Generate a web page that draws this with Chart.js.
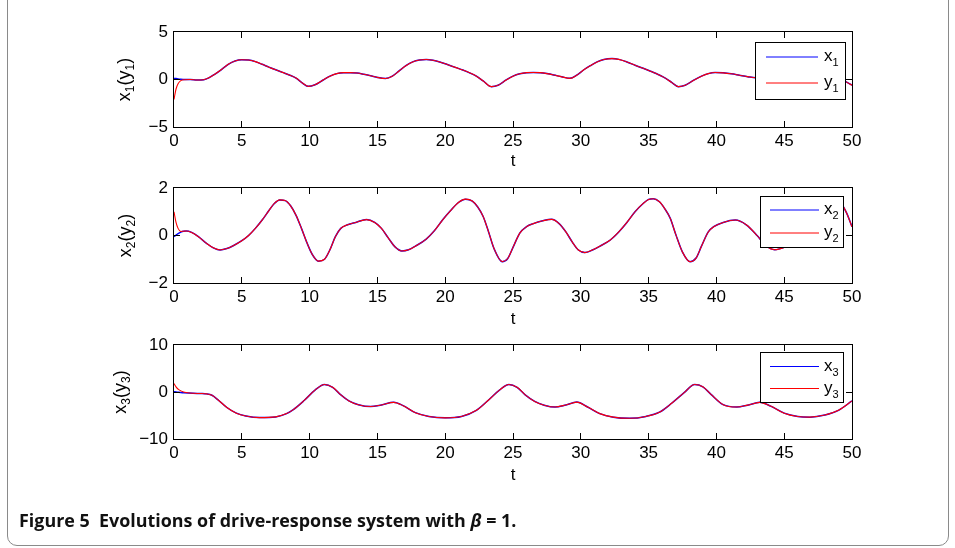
<!DOCTYPE html>
<html>
<head>
<meta charset="utf-8">
<script src="https://cdn.jsdelivr.net/npm/chart.js@4.4.1/dist/chart.umd.min.js"></script>
<style>
  body { margin: 0; background: #fff; }
  #page { position: relative; width: 955px; height: 548px; overflow: hidden; }
  #frame { position: absolute; left: 7px; top: -20px; width: 940px; height: 564px; border: 1px solid #8a8a8a; border-radius: 10px; }
  canvas { position: absolute; left: 0; top: 0; }
  #caption { position: absolute; left: 19px; top: 510px; font: bold 17.9px "Open Sans", sans-serif; line-height: 20px; color: #111; white-space: nowrap; }
</style>
</head>
<body>
<div id="page">
  <div id="frame"></div>
  <canvas id="c1" width="955" height="548"></canvas>
  <canvas id="c2" width="955" height="548"></canvas>
  <canvas id="c3" width="955" height="548"></canvas>
  <div id="caption">Figure 5&nbsp;&nbsp;Evolutions of drive-response system with <i>β</i> = 1.</div>
</div>
<script>
// panel 1: x1 (drive) and y1 (response)
const t1 = [0, 0.15, 0.3, 0.5, 0.8, 1.2, 1.7, 2.2, 2.6, 3.0,
  3.5, 4.0, 4.5, 5.0, 5.5, 6.0, 6.5, 7.0, 7.5, 8.0,
  8.5, 9.0, 9.5, 9.9, 10.4, 11.0, 11.5, 12.0, 12.5, 13.0,
  13.5, 14.0, 14.5, 15.0, 15.6, 16.1, 16.6, 17.1, 17.6, 18.1,
  18.6, 19.1, 19.6, 20.2, 20.8, 21.3, 21.8, 22.3, 22.8, 23.4,
  23.9, 24.5, 25.0, 25.5, 26.0, 26.5, 27.0, 27.5, 28.0, 28.6,
  29.2, 29.7, 30.2, 30.7, 31.2, 31.7, 32.3, 32.8, 33.4, 34.0,
  34.6, 35.1, 35.6, 36.1, 36.7, 37.2, 37.7, 38.3, 38.9, 39.4,
  39.9, 40.5, 41.1, 41.7, 42.3, 42.9, 43.5, 44.1, 44.7, 45.3,
  45.9, 46.5, 47.1, 47.7, 48.3, 48.9, 49.5, 50.0];
const x1 = [0.1, 0.1, 0.05, 0.02, 0.0, 0.0, -0.05, -0.02, 0.2, 0.55,
  1.05, 1.6, 1.95, 2.08, 2.05, 1.88, 1.6, 1.3, 1.02, 0.75,
  0.48, 0.15, -0.4, -0.72, -0.55, -0.05, 0.35, 0.62, 0.72, 0.72,
  0.68, 0.55, 0.4, 0.22, 0.1, 0.35, 0.9, 1.45, 1.85, 2.05,
  2.1, 2.02, 1.85, 1.55, 1.25, 1.0, 0.7, 0.35, -0.15, -0.75,
  -0.6, -0.05, 0.35, 0.6, 0.72, 0.74, 0.72, 0.62, 0.48, 0.28,
  0.12, 0.45, 1.0, 1.45, 1.85, 2.1, 2.2, 2.12, 1.85, 1.5,
  1.18, 0.9, 0.6, 0.25, -0.3, -0.75, -0.6, -0.1, 0.35, 0.62,
  0.74, 0.7, 0.6, 0.45, 0.3, 0.18, 0.3, 0.9, 1.6, 2.05,
  2.15, 1.95, 1.6, 1.2, 0.8, 0.35, -0.2, -0.6];
const y1 = [-2.1, -1.0, -0.45, -0.12, -0.02, 0.0, -0.05, -0.02, 0.2, 0.55,
  1.05, 1.6, 1.95, 2.08, 2.05, 1.88, 1.6, 1.3, 1.02, 0.75,
  0.48, 0.15, -0.4, -0.72, -0.55, -0.05, 0.35, 0.62, 0.72, 0.72,
  0.68, 0.55, 0.4, 0.22, 0.1, 0.35, 0.9, 1.45, 1.85, 2.05,
  2.1, 2.02, 1.85, 1.55, 1.25, 1.0, 0.7, 0.35, -0.15, -0.75,
  -0.6, -0.05, 0.35, 0.6, 0.72, 0.74, 0.72, 0.62, 0.48, 0.28,
  0.12, 0.45, 1.0, 1.45, 1.85, 2.1, 2.2, 2.12, 1.85, 1.5,
  1.18, 0.9, 0.6, 0.25, -0.3, -0.75, -0.6, -0.1, 0.35, 0.62,
  0.74, 0.7, 0.6, 0.45, 0.3, 0.18, 0.3, 0.9, 1.6, 2.05,
  2.15, 1.95, 1.6, 1.2, 0.8, 0.35, -0.2, -0.6];

// panel 2: x2 and y2
const t2 = [0, 0.15, 0.3, 0.5, 0.7, 0.9, 1.3, 1.8, 2.4, 2.9,
  3.4, 3.9, 4.4, 5.0, 5.5, 6.0, 6.5, 7.0, 7.4, 7.8,
  8.2, 8.6, 9.0, 9.4, 9.8, 10.2, 10.65, 11.1, 11.5, 11.9,
  12.3, 12.8, 13.4, 14.2, 14.8, 15.3, 15.8, 16.3, 16.8, 17.3,
  17.8, 18.6, 19.2, 19.8, 20.4, 21.0, 21.5, 22.0, 22.4, 22.8,
  23.2, 23.6, 24.2, 24.6, 25.0, 25.5, 26.0, 26.5, 27.2, 27.85,
  28.4, 28.9, 29.4, 29.8, 30.3, 30.9, 31.5, 32.15, 32.8, 33.4,
  34.0, 34.6, 35.0, 35.35, 35.8, 36.2, 36.6, 37.0, 37.5, 38.05,
  38.5, 38.9, 39.4, 39.8, 40.5, 41.4, 42.2, 43.0, 43.6, 44.3,
  45.0, 45.7, 46.4, 47.1, 47.7, 48.3, 48.8, 49.2, 49.6, 50.0];
const x2 = [-0.05, 0.02, 0.08, 0.14, 0.18, 0.19, 0.13, -0.05, -0.33, -0.52,
  -0.61, -0.55, -0.42, -0.22, 0.0, 0.3, 0.65, 1.05, 1.35, 1.5,
  1.47, 1.25, 0.85, 0.3, -0.3, -0.8, -1.08, -1.0, -0.6, -0.05,
  0.3, 0.45, 0.55, 0.67, 0.55, 0.3, -0.1, -0.48, -0.65, -0.6,
  -0.45, -0.15, 0.2, 0.65, 1.05, 1.4, 1.53, 1.45, 1.2, 0.8,
  0.15, -0.55, -1.1, -0.98, -0.5, 0.1, 0.37, 0.5, 0.62, 0.68,
  0.5, 0.15, -0.3, -0.6, -0.72, -0.6, -0.42, -0.2, 0.15, 0.55,
  1.0, 1.35, 1.52, 1.55, 1.42, 1.12, 0.72, 0.05, -0.7, -1.1,
  -0.95, -0.45, 0.15, 0.37, 0.55, 0.65, 0.45, 0.0, -0.4, -0.6,
  -0.5, -0.3, 0.0, 0.5, 1.0, 1.4, 1.52, 1.35, 0.95, 0.37];
const y2 = [1.0, 0.55, 0.3, 0.17, 0.18, 0.19, 0.13, -0.05, -0.33, -0.52,
  -0.61, -0.55, -0.42, -0.22, 0.0, 0.3, 0.65, 1.05, 1.35, 1.5,
  1.47, 1.25, 0.85, 0.3, -0.3, -0.8, -1.08, -1.0, -0.6, -0.05,
  0.3, 0.45, 0.55, 0.67, 0.55, 0.3, -0.1, -0.48, -0.65, -0.6,
  -0.45, -0.15, 0.2, 0.65, 1.05, 1.4, 1.53, 1.45, 1.2, 0.8,
  0.15, -0.55, -1.1, -0.98, -0.5, 0.1, 0.37, 0.5, 0.62, 0.68,
  0.5, 0.15, -0.3, -0.6, -0.72, -0.6, -0.42, -0.2, 0.15, 0.55,
  1.0, 1.35, 1.52, 1.55, 1.42, 1.12, 0.72, 0.05, -0.7, -1.1,
  -0.95, -0.45, 0.15, 0.37, 0.55, 0.65, 0.45, 0.0, -0.4, -0.6,
  -0.5, -0.3, 0.0, 0.5, 1.0, 1.4, 1.52, 1.35, 0.95, 0.37];

// panel 3: x3 and y3
const t3 = [0, 0.15, 0.35, 0.7, 1.4, 2.0, 2.4, 2.8, 3.3, 3.9,
  4.6, 5.3, 6.3, 7.5, 8.3, 8.8, 9.6, 10.4, 11.1, 11.7,
  12.3, 12.9, 13.6, 14.5, 15.3, 16.2, 16.9, 17.8, 18.8, 20.0,
  21.2, 22.3, 23.2, 24.0, 24.7, 25.3, 25.9, 26.6, 27.3, 28.1,
  28.9, 29.7, 30.5, 31.4, 32.4, 33.6, 34.8, 35.8, 36.7, 37.6,
  38.4, 39.0, 39.6, 40.5, 41.5, 42.3, 43.2, 44.0, 45.0, 46.0,
  46.9, 48.0, 49.0, 50.0];
const x3 = [0.05, 0.0, -0.05, -0.15, -0.28, -0.32, -0.4, -0.7, -1.8, -3.3,
  -4.5, -5.1, -5.45, -5.3, -4.6, -3.75, -1.8, 0.4, 1.6, 1.0,
  -0.6, -1.9, -2.7, -3.1, -2.75, -2.2, -2.9, -4.4, -5.2, -5.5,
  -5.2, -3.9, -1.7, 0.4, 1.6, 1.0, -0.6, -2.0, -2.8, -3.2,
  -2.75, -2.15, -3.2, -4.6, -5.35, -5.6, -5.2, -4.3, -2.4, -0.2,
  1.6, 1.1, -0.5, -2.7, -3.2, -2.8, -2.2, -3.0, -4.5, -5.2,
  -5.35, -4.9, -3.9, -1.9];
const y3 = [1.8, 1.1, 0.5, 0.0, -0.28, -0.32, -0.4, -0.7, -1.8, -3.3,
  -4.5, -5.1, -5.45, -5.3, -4.6, -3.75, -1.8, 0.4, 1.6, 1.0,
  -0.6, -1.9, -2.7, -3.1, -2.75, -2.2, -2.9, -4.4, -5.2, -5.5,
  -5.2, -3.9, -1.7, 0.4, 1.6, 1.0, -0.6, -2.0, -2.8, -3.2,
  -2.75, -2.15, -3.2, -4.6, -5.35, -5.6, -5.2, -4.3, -2.4, -0.2,
  1.6, 1.1, -0.5, -2.7, -3.2, -2.8, -2.2, -3.0, -4.5, -5.2,
  -5.35, -4.9, -3.9, -1.9];

const tTicks = [0, 5, 10, 15, 20, 25, 30, 35, 40, 45, 50];

const FONT = "'Liberation Sans', Arial, sans-serif";
Chart.defaults.font.family = FONT;
Chart.defaults.font.size = 17;
Chart.defaults.color = "#000";

function points(t, v) {
  return t.map((tt, i) => ({ x: tt, y: v[i] }));
}

function minus(v) {
  return v < 0 ? "\u2212" + Math.abs(v) : "" + v;
}

// text with subscripts, left to right from baseline (x, y)
function subText(ctx, parts, x, y, size, subSize, drop, measureOnly) {
  let w = 0;
  parts.forEach(p => {
    ctx.font = (p[1] ? subSize : size) + "px " + FONT;
    if (!measureOnly) ctx.fillText(p[0], x + w, y + (p[1] ? drop : 0));
    w += ctx.measureText(p[0]).width;
  });
  return w;
}

const framePlugin = {
  id: "matFrame",
  afterDraw(chart, args, opts) {
    const { ctx, chartArea: a, scales: { x, y } } = chart;
    ctx.save();
    ctx.fillStyle = "#000";
    ctx.strokeStyle = "#000";
    ctx.lineWidth = 1;

    // inward ticks on all four sides
    ctx.beginPath();
    x.ticks.forEach(tk => {
      if (tk.value <= x.min || tk.value >= x.max) return;
      const px = Math.floor(x.getPixelForValue(tk.value)) + 0.5;
      ctx.moveTo(px, a.bottom); ctx.lineTo(px, a.bottom - 6);
      ctx.moveTo(px, a.top); ctx.lineTo(px, a.top + 6);
    });
    y.ticks.forEach(tk => {
      if (tk.value <= y.min || tk.value >= y.max) return;
      const py = Math.floor(y.getPixelForValue(tk.value)) + 0.5;
      ctx.moveTo(a.left, py); ctx.lineTo(a.left + 6, py);
      ctx.moveTo(a.right, py); ctx.lineTo(a.right - 6, py);
    });
    ctx.stroke();
    ctx.strokeRect(a.left - 0.5, a.top - 0.5, a.right - a.left + 1, a.bottom - a.top + 1);

    // y axis title, rotated
    const tp = [["x", 0], [opts.n, 1], ["(y", 0], [opts.n, 1], [")", 0]];
    ctx.save();
    ctx.translate(opts.titleX, (a.top + a.bottom) / 2);
    ctx.rotate(-Math.PI / 2);
    ctx.textBaseline = "alphabetic";
    const tw = subText(ctx, tp, 0, 0, 18, 12, 4, true);
    subText(ctx, tp, -tw / 2, 0, 18, 12, 4);
    ctx.restore();

    // legend box
    const L = opts.legend;
    ctx.fillStyle = "#fff";
    ctx.fillRect(L.x, L.y, L.w, L.h);
    ctx.strokeRect(L.x + 0.5, L.y + 0.5, L.w, L.h);
    const rows = [["x", "#0000ff", L.row1], ["y", "#ff0000", L.row2]];
    rows.forEach(r => {
      ctx.strokeStyle = r[1];
      ctx.lineWidth = 1;
      ctx.beginPath();
      ctx.moveTo(L.lineX0, r[2]);
      ctx.lineTo(L.lineX1, r[2]);
      ctx.stroke();
      ctx.fillStyle = "#000";
      ctx.textBaseline = "alphabetic";
      subText(ctx, [[r[0], 0], [opts.n, 1]], L.textX, Math.round(r[2]) + 4, 17, 11, 5);
    });
    ctx.restore();
  }
};

function makePanel(id, t, xs, ys, cfg) {
  const xh = cfg.tY - cfg.bottom + 10.2;
  return new Chart(document.getElementById(id), {
    type: "line",
    data: {
      datasets: [
        { label: "x" + cfg.n, data: points(t, xs), borderColor: "#0000ff", borderWidth: 1.5, order: 2 },
        { label: "y" + cfg.n, data: points(t, ys), borderColor: "#ff0000", borderWidth: 1.1, order: 1 }
      ]
    },
    options: {
      responsive: false,
      animation: false,
      events: [],
      layout: { padding: { top: cfg.top, right: 103, bottom: 548 - cfg.bottom - xh, left: 0 } },
      elements: {
        point: { radius: 0 },
        line: { cubicInterpolationMode: "monotone", fill: false }
      },
      scales: {
        x: {
          type: "linear",
          min: 0,
          max: 50,
          afterBuildTicks: s => { s.ticks = tTicks.map(v => ({ value: v })); },
          ticks: { autoSkip: false, maxRotation: 0, padding: 4 },
          grid: { display: false, drawTicks: false },
          border: { display: false },
          title: { display: true, text: "t", padding: 0 },
          afterFit: s => { s.height = xh; }
        },
        y: {
          min: cfg.yMin,
          max: cfg.yMax,
          ticks: { stepSize: cfg.yStep, padding: 6, callback: v => minus(v) },
          grid: { display: false, drawTicks: false },
          border: { display: false },
          afterFit: s => { s.width = 174; }
        }
      },
      plugins: {
        legend: { display: false },
        tooltip: { enabled: false },
        matFrame: { n: cfg.n, titleX: cfg.titleX, legend: cfg.legend }
      }
    },
    plugins: [framePlugin]
  });
}

makePanel("c1", t1, x1, y1, {
  n: "1", top: 32, bottom: 127, tY: 161, yMin: -5, yMax: 5, yStep: 5, titleX: 130,
  legend: { x: 755, y: 42, w: 90, h: 57, row1: 57, row2: 83, lineX0: 766, lineX1: 818, textX: 824 }
});
makePanel("c2", t2, x2, y2, {
  n: "2", top: 188, bottom: 283, tY: 319, yMin: -2, yMax: 2, yStep: 2, titleX: 131,
  legend: { x: 760, y: 196, w: 83, h: 51, row1: 210, row2: 233, lineX0: 770, lineX1: 819, textX: 824 }
});
makePanel("c3", t3, x3, y3, {
  n: "3", top: 345, bottom: 439, tY: 475, yMin: -10, yMax: 10, yStep: 10, titleX: 126,
  legend: { x: 760, y: 352, w: 83, h: 50, row1: 366.5, row2: 388.5, lineX0: 770, lineX1: 819, textX: 824 }
});
</script>
</body>
</html>
